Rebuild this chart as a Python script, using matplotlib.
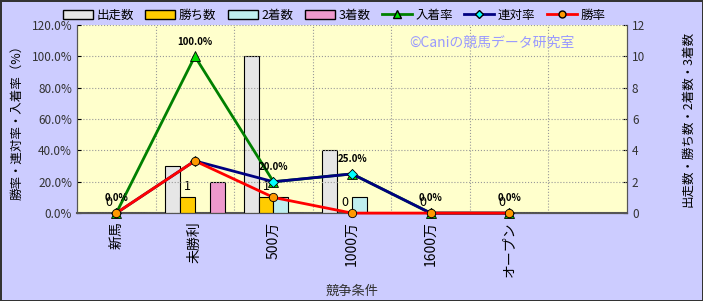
import matplotlib.pyplot as plt
from matplotlib.patches import Patch
from matplotlib.lines import Line2D

plt.rcParams['font.family'] = ['Noto Sans CJK JP', 'DejaVu Sans']

# data
categories = ['新馬', '未勝利', '500万', '1000万', '1600万', 'オープン', '']
starts = [0, 3, 10, 4, 0, 0]
wins = [0, 1, 1, 0, 0, 0]
seconds = [0, 0, 1, 1, 0, 0]
thirds = [0, 2, 0, 0, 0, 0]
place_rate = [0.0, 1.0, 0.2, 0.25, 0.0, 0.0]
rentai_rate = [0.0, 0.333, 0.2, 0.25, 0.0, 0.0]
win_rate = [0.0, 0.333, 0.1, 0.0, 0.0, 0.0]

fig = plt.figure(figsize=(7.03, 3.01), dpi=100)
fig.patch.set_facecolor('#CCCCFF')
fig.patch.set_edgecolor('#333333')
fig.patch.set_linewidth(2)

ax = fig.add_axes([0.1095, 0.292, 0.7825, 0.625])  # bars, right scale
ax.set_facecolor('#FFFFCC')
ax2 = ax.twinx()  # rates, left scale

x = list(range(len(starts)))
w = 0.19
bar_sets = [(starts, '#E6E6E6', '出走数'), (wins, '#FFCC00', '勝ち数'),
            (seconds, '#BFEFEF', '2着数'), (thirds, '#EE99CC', '3着数')]
handles = []
for i, (vals, col, lab) in enumerate(bar_sets):
    xs = [v + (i - 1.5) * w for v in x]
    ax.bar(xs, vals, width=w, color=col, edgecolor='black', linewidth=0.8, zorder=3)
    handles.append(Patch(facecolor=col, edgecolor='black', label=lab))

for xi, v in zip(x, wins):
    ax.annotate(str(v), (xi - 0.5 * w, v), xytext=(0, 3), textcoords='offset points',
                ha='center', va='bottom', fontsize=9, zorder=6)

ax.set_xlim(-0.5, 6.5)
ax.set_ylim(0, 12)
ax.set_yticks(range(0, 13, 2))
ax.yaxis.tick_right()
ax.yaxis.set_label_position('right')
ax.set_ylabel('出走数・勝ち数・2着数・3着数', fontsize=9, labelpad=26)
ax.set_xticks(range(7))
ax.set_xticklabels(categories, rotation=90, fontsize=10)
ax.set_xlabel('競争条件', fontsize=9.5, color='#333333', labelpad=6)
ax.set_xticks([k + 0.5 for k in range(6)], minor=True)
ax.tick_params(axis='x', which='both', length=0, pad=6)
ax.grid(True, which='minor', axis='x', color='#999999', linestyle=':', linewidth=0.8, zorder=0)

line_sets = [(place_rate, 'green', '^', '#00DD00', '入着率', 7),
             (rentai_rate, '#000080', 'D', '#00FFFF', '連対率', 5),
             (win_rate, 'red', 'o', '#FF9900', '勝率', 6)]
for vals, lc, mk, mc, lab, ms in line_sets:
    ax2.plot(x, vals, color=lc, linewidth=2, marker=mk, markersize=ms,
             markerfacecolor=mc, markeredgecolor='black', markeredgewidth=0.6,
             clip_on=False, zorder=4)
    handles.append(Line2D([], [], color=lc, linewidth=2, marker=mk, markersize=ms - 1,
                          markerfacecolor=mc, markeredgecolor='black', label=lab))

for xi, v in zip(x, place_rate):
    ax2.annotate(f'{v * 100:.1f}%', (xi, v), xytext=(0, 7), textcoords='offset points',
                 ha='center', va='bottom', fontsize=7, fontweight='bold', zorder=6)

ax2.set_ylim(0, 1.2)
ax2.set_yticks([k / 10 for k in range(0, 13, 2)])
ax2.set_yticklabels([f'{k * 10:.1f}%' for k in range(0, 13, 2)])
ax2.yaxis.tick_left()
ax2.yaxis.set_label_position('left')
ax2.set_ylabel('勝率・連対率・入着率（%）', fontsize=9, labelpad=6)
ax2.grid(True, axis='y', color='#999999', linestyle=':', linewidth=0.8)

for a in (ax, ax2):
    a.tick_params(axis='y', labelsize=8.5, labelcolor='#333333', length=3, direction='in')
    for s in a.spines.values():
        s.set_color('#555555')
    a.spines['top'].set_visible(False)
ax.spines['bottom'].set_linewidth(1.5)

ax2.text(0.755, 0.905, '©Caniの競馬データ研究室', transform=ax.transAxes,
         ha='center', va='center', fontsize=10, color='#9999FF')

fig.legend(handles=handles, loc='center', bbox_to_anchor=(0.475, 0.95), ncol=7,
           frameon=False, fontsize=9, handlelength=2.4, columnspacing=0.9,
           handletextpad=0.3)

fig.savefig('out.png', dpi=100, facecolor=fig.get_facecolor(), edgecolor=fig.get_edgecolor())
